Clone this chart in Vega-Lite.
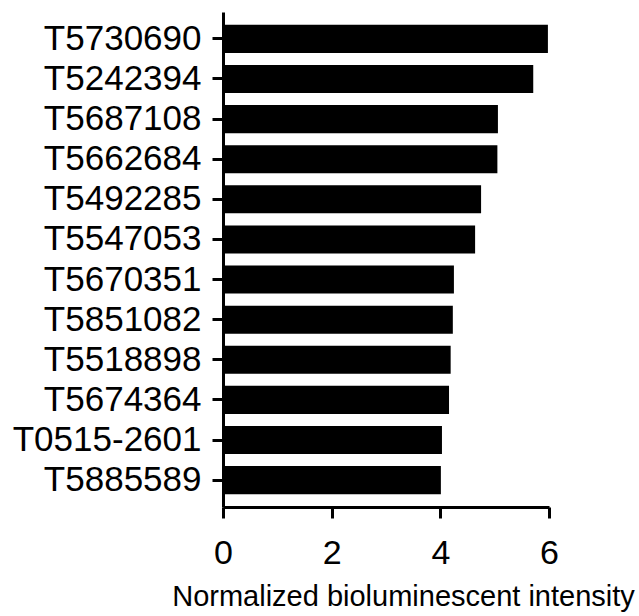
{
  "$schema": "https://vega.github.io/schema/vega-lite/v6.json",
  "autosize": {"type": "none"},
  "width": 326,
  "height": 495,
  "padding": {"left": 223, "top": 12, "right": 90, "bottom": 109},
  "background": "white",
  "config": {
    "view": {"stroke": null},
    "font": "Liberation Sans",
    "axis": {"grid": false, "domainColor": "black", "tickColor": "black", "labelColor": "black", "titleColor": "black", "labelFont": "Liberation Sans", "titleFont": "Liberation Sans"}
  },
  "data": {
    "values": [
      {"compound": "T5730690", "intensity": 5.98},
      {"compound": "T5242394", "intensity": 5.71},
      {"compound": "T5687108", "intensity": 5.06},
      {"compound": "T5662684", "intensity": 5.05},
      {"compound": "T5492285", "intensity": 4.75},
      {"compound": "T5547053", "intensity": 4.64},
      {"compound": "T5670351", "intensity": 4.25},
      {"compound": "T5851082", "intensity": 4.23},
      {"compound": "T5518898", "intensity": 4.19},
      {"compound": "T5674364", "intensity": 4.16},
      {"compound": "T0515-2601", "intensity": 4.03},
      {"compound": "T5885589", "intensity": 4.01}
    ]
  },
  "mark": {"type": "bar", "color": "black"},
  "encoding": {
    "y": {
      "field": "compound",
      "type": "nominal",
      "sort": null,
      "scale": {"paddingInner": 0.3, "paddingOuter": 0.32},
      "axis": {
        "title": null,
        "domainWidth": 3,
        "tickWidth": 3,
        "tickSize": 11,
        "labelPadding": 11,
        "labelFontSize": 35,
        "labelLimit": 400
      }
    },
    "x": {
      "field": "intensity",
      "type": "quantitative",
      "scale": {"domain": [0, 6], "nice": false},
      "axis": {
        "title": "Normalized bioluminescent intensity",
        "values": [0, 2, 4, 6],
        "domainWidth": 3,
        "tickWidth": 3,
        "tickSize": 11,
        "labelFontSize": 34,
        "labelBaseline": "alphabetic",
        "labelPadding": 45,
        "labelFlush": false,
        "titleFontSize": 29,
        "titleFontWeight": "normal",
        "titleBaseline": "alphabetic",
        "titleAlign": "center",
        "titleAnchor": null,
        "titleX": 180,
        "titleY": 98
      }
    }
  }
}
